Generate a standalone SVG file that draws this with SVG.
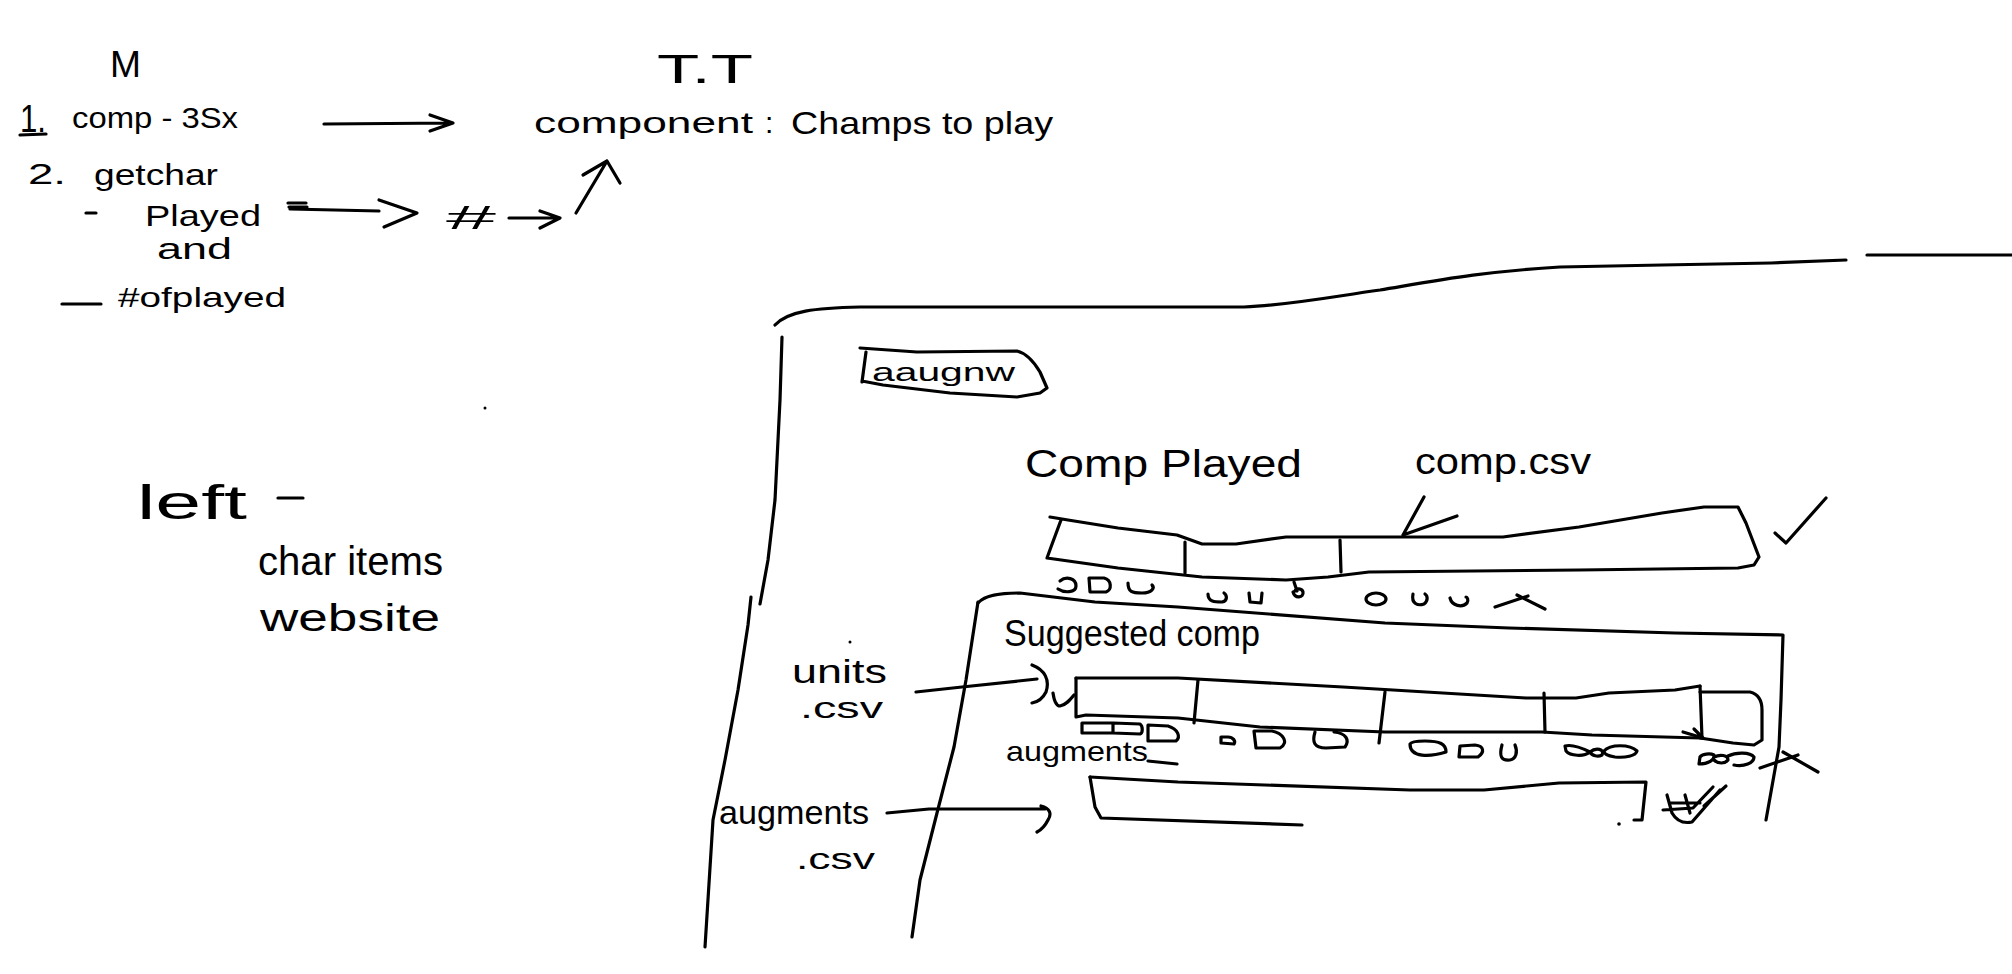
<svg xmlns="http://www.w3.org/2000/svg" width="2012" height="974" viewBox="0 0 2012 974">
<style>
  .s{fill:none;stroke:#000;stroke-width:3.2;stroke-linecap:round;stroke-linejoin:round}
  .t{font-family:"Liberation Sans",Arial,sans-serif;fill:#000}
  .dot{fill:#000}
</style>
<rect width="2012" height="974" fill="#fff"/>

<!-- top-left notes -->
<g id="m-label"><text class="t" x="110" y="77" font-size="36" textLength="31" lengthAdjust="spacingAndGlyphs">M</text></g>
<g id="item-1">
  <text class="t" x="20" y="132" font-size="38" textLength="26" lengthAdjust="spacingAndGlyphs">1.</text>
  <path class="s" d="M20,135 L46,134"/>
  <text class="t" x="72" y="128" font-size="30" textLength="166" lengthAdjust="spacingAndGlyphs">comp - 3Sx</text>
</g>
<g id="tt-label"><text class="t" x="657" y="83" font-size="40" textLength="96" lengthAdjust="spacingAndGlyphs">T.T</text></g>
<g id="component"><text class="t" x="534" y="133" font-size="30" textLength="219" lengthAdjust="spacingAndGlyphs">component</text></g>
<g id="champs"><text class="t" x="765" y="133" font-size="30">:</text>
  <text class="t" x="791" y="134" font-size="32" textLength="262" lengthAdjust="spacingAndGlyphs">Champs to play</text></g>
<g id="item-2">
  <text class="t" x="28" y="184" font-size="30" textLength="38" lengthAdjust="spacingAndGlyphs">2.</text>
  <text class="t" x="94" y="185" font-size="30" textLength="124" lengthAdjust="spacingAndGlyphs">getchar</text>
</g>
<g id="played">
  <path class="s" d="M86,213 L96,213"/>
  <text class="t" x="145" y="226" font-size="30" textLength="116" lengthAdjust="spacingAndGlyphs">Played</text>
  <text class="t" x="157" y="259" font-size="30" textLength="75" lengthAdjust="spacingAndGlyphs">and</text>
</g>
<g id="num-played">
  <path class="s" d="M62,304 L101,304"/>
  <text class="t" x="118" y="307" font-size="28" textLength="168" lengthAdjust="spacingAndGlyphs">#ofplayed</text>
</g>
<g id="hash"><text class="t" x="446" y="229" font-size="34" textLength="50" lengthAdjust="spacingAndGlyphs">#</text></g>

<g id="left-notes">
  <text class="t" x="137" y="519" font-size="48" textLength="110" lengthAdjust="spacingAndGlyphs">left</text>
  <path class="s" d="M278,498 L303,498"/>
  <text class="t" x="258" y="575" font-size="40" textLength="185" lengthAdjust="spacingAndGlyphs">char items</text>
  <text class="t" x="260" y="631" font-size="38" textLength="180" lengthAdjust="spacingAndGlyphs">website</text>
</g>
<circle class="dot" cx="485" cy="408" r="1.5"/>

<!-- page frame -->
<g id="frame">
  <path class="s" d="M775,325 C788,311 815,308 860,307 L1244,307 C1290,305 1330,297 1380,290 C1440,280 1480,272 1560,267 L1662,265 L1771,263 L1846,260"/>
  <path class="s" d="M1867,255 L2012,255"/>
  <path class="s" d="M782,337 L780,400 L775,500 L768,560 L760,604"/>
  <path class="s" d="M751,597 L748,625 L738,690 L725,760 L713,820 L705,947"/>
</g>

<g id="button">
  <path class="s" d="M860,348 L917,352 L1017,351 C1026,353 1034,362 1040,372 L1047,388 L1040,393 L1017,397 L950,393 L883,385 L862,381 M866,352 L862,382"/>
  <text class="t" x="872" y="381" font-size="26" textLength="143" lengthAdjust="spacingAndGlyphs">aaugnw</text>
</g>

<g id="comp-played">
  <text class="t" x="1025" y="477" font-size="38" textLength="277" lengthAdjust="spacingAndGlyphs">Comp Played</text>
  <path class="s" d="M1050,517 L1068,520 L1118,528 L1177,535 L1202,544 L1236,544 L1286,537 L1503,537 L1579,527 L1662,513 L1704,507 L1738,507 L1746,523 L1759,557 L1754,565 L1738,568 L1579,570 L1369,572 L1328,577 L1286,580 L1202,577 L1118,568 L1047,558 L1051,547 L1061,520"/>
  <path class="s" d="M1185,542 L1185,573 M1340,540 L1341,572"/>
  <path class="s" d="M1775,533 L1786,543 L1826,498"/>
  <g id="comp-icons">
    <path class="s" d="M1060,581 C1066,576 1076,578 1076,586 C1076,593 1064,593 1058,589"/>
    <path class="s" d="M1089,578 L1090,592 L1106,592 C1112,590 1112,580 1104,578 Z"/>
    <path class="s" d="M1128,583 C1128,592 1132,593 1142,593 C1152,593 1155,588 1152,585"/>
    <path class="s" d="M1208,594 C1208,602 1215,602 1222,602 C1228,601 1227,595 1224,593"/>
    <path class="s" d="M1249,593 L1250,602 L1261,603 L1262,593"/>
    <path class="s" d="M1294,582 L1297,591 M1293,592 C1295,599 1304,598 1303,592 C1302,588 1296,588 1295,591"/>
    <ellipse class="s" cx="1376" cy="599" rx="10" ry="6"/>
    <path class="s" d="M1413,594 C1411,604 1418,606 1424,604 C1428,601 1428,596 1425,594"/>
    <path class="s" d="M1450,598 C1452,606 1462,608 1467,603 C1469,600 1467,597 1466,597"/>
    <path class="s" d="M1495,607 L1528,596 M1517,595 L1545,609"/>
  </g>
  <g id="comp-csv">
    <text class="t" x="1415" y="474" font-size="36" textLength="176" lengthAdjust="spacingAndGlyphs">comp.csv</text>
  </g>
</g>

<g id="suggested-comp">
  <path class="s" d="M978,603 C985,595 1000,593 1020,593 L1095,602 L1178,607 L1385,623 L1509,628 L1675,633 L1783,635 L1781,700 L1779,747 L1766,820"/>
  <path class="s" d="M978,602 L966,680 L954,747 L937,813 L920,880 L912,937"/>
  <text class="t" x="1004" y="646" font-size="36" textLength="256" lengthAdjust="spacingAndGlyphs">Suggested comp</text>
  <g id="units-strip">
    <path class="s" d="M1076,678 L1178,678 L1343,687 L1526,698 L1576,698 L1609,693 L1675,690 L1700,686"/>
    <path class="s" d="M1700,692 L1750,692 C1758,694 1762,700 1762,710 L1762,740 L1754,745 L1733,743 L1700,738"/>
    <path class="s" d="M1076,678 L1076,717 L1086,715 L1178,718 L1260,727 L1385,732 L1542,732 L1592,735 L1700,738"/>
    <path class="s" d="M1198,680 L1194,723 M1385,692 L1379,743 M1544,693 L1545,732 M1700,686 L1702,738"/>
    <path class="s" d="M1683,732 L1703,738 M1694,729 L1703,738"/>
  </g>
  <g id="unit-icons">
    <path class="s" d="M1082,723 L1082,733 L1113,733 L1113,723 Z M1113,723 L1140,724 C1143,726 1143,733 1140,734 L1113,733"/>
    <path class="s" d="M1148,725 L1148,741 L1176,741 C1181,737 1178,729 1168,726 Z"/>
    <path class="s" d="M1221,737 L1221,743 L1234,744 C1236,741 1233,737 1228,737 Z"/>
    <path class="s" d="M1254,731 L1256,748 L1280,748 C1290,742 1282,733 1272,731 Z"/>
    <path class="s" d="M1315,732 C1312,742 1314,748 1326,748 L1345,747 C1350,740 1346,733 1334,732"/>
    <path class="s" d="M1410,744 C1410,758 1430,757 1446,752 C1446,744 1440,741 1425,741 C1416,741 1411,742 1410,744"/>
    <path class="s" d="M1460,746 L1459,757 L1478,757 C1485,752 1484,746 1475,745 Z"/>
    <path class="s" d="M1502,745 C1499,756 1501,761 1510,760 C1516,759 1518,752 1515,745"/>
    <path class="s" d="M1565,746 C1572,744 1582,748 1590,752 C1584,757 1570,756 1566,751 Z M1590,752 C1596,747 1605,749 1602,755 C1598,757 1592,756 1590,752 M1604,751 C1610,744 1630,744 1637,751 C1636,756 1625,758 1615,757 C1608,756 1604,754 1604,751"/>
    <path class="s" d="M1700,757 C1702,754 1710,753 1714,755 C1715,760 1708,764 1699,764 Z M1714,757 C1720,754 1728,755 1728,760 C1725,764 1718,764 1714,760 M1728,756 C1736,752 1750,752 1754,757 C1754,763 1744,767 1734,765"/>
    <path class="s" d="M1760,768 L1798,755 M1783,752 L1818,772"/>
  </g>
  <text class="t" x="1006" y="761" font-size="28" textLength="142" lengthAdjust="spacingAndGlyphs">augments</text>
  <path class="s" d="M1148,761 L1177,764"/>
  <g id="augments-strip">
    <path class="s" d="M1090,777 L1178,782 L1410,790 L1484,790 L1559,783 L1646,782 L1642,820 L1634,820"/>
    <path class="s" d="M1090,777 L1095,807 L1101,818 L1302,825"/>
    <circle class="dot" cx="1619" cy="824" r="1.8"/>
    <path class="s" d="M1667,795 L1672,813 C1676,820 1682,824 1692,822 L1720,790 M1663,810 L1693,808 L1713,787 M1685,795 L1690,813 M1671,803 L1700,803 M1704,806 L1726,786"/>
  </g>
</g>

<g id="units-csv">
  <text class="t" x="792" y="683" font-size="34" textLength="95" lengthAdjust="spacingAndGlyphs">units</text>
  <text class="t" x="800" y="718" font-size="30" textLength="83" lengthAdjust="spacingAndGlyphs">.csv</text>
</g>
<circle class="dot" cx="850" cy="642" r="1.5"/>
<g id="augments-csv">
  <text class="t" x="719" y="824" font-size="34" textLength="150" lengthAdjust="spacingAndGlyphs">augments</text>
  <text class="t" x="796" y="869" font-size="30" textLength="79" lengthAdjust="spacingAndGlyphs">.csv</text>
</g>

<!-- connectors -->
<g id="connectors">
  <path class="s" d="M324,124 L453,123 M430,115 L453,123 L430,131"/>
  <path class="s" d="M288,203 L306,203 M289,207 L307,207"/>
  <path class="s" d="M290,209 L379,211 M379,200 L417,213 L384,227"/>
  <path class="s" d="M509,218 L558,218 M540,211 L560,218 L540,228"/>
  <path class="s" d="M576,213 L607,161 M583,175 L607,161 L620,183"/>
  <path class="s" d="M1424,497 L1403,535 M1457,516 L1403,535"/>
  <path class="s" d="M916,692 L962,687 L1037,679 M1032,665 C1045,670 1050,680 1046,692 C1043,698 1038,702 1032,703 M1053,693 C1054,700 1056,706 1060,706 C1066,705 1070,700 1074,695"/>
  <path class="s" d="M887,813 L929,809 L1045,809 M1041,806 C1050,808 1052,814 1048,820 C1045,826 1041,830 1037,832"/>
</g>
</svg>
